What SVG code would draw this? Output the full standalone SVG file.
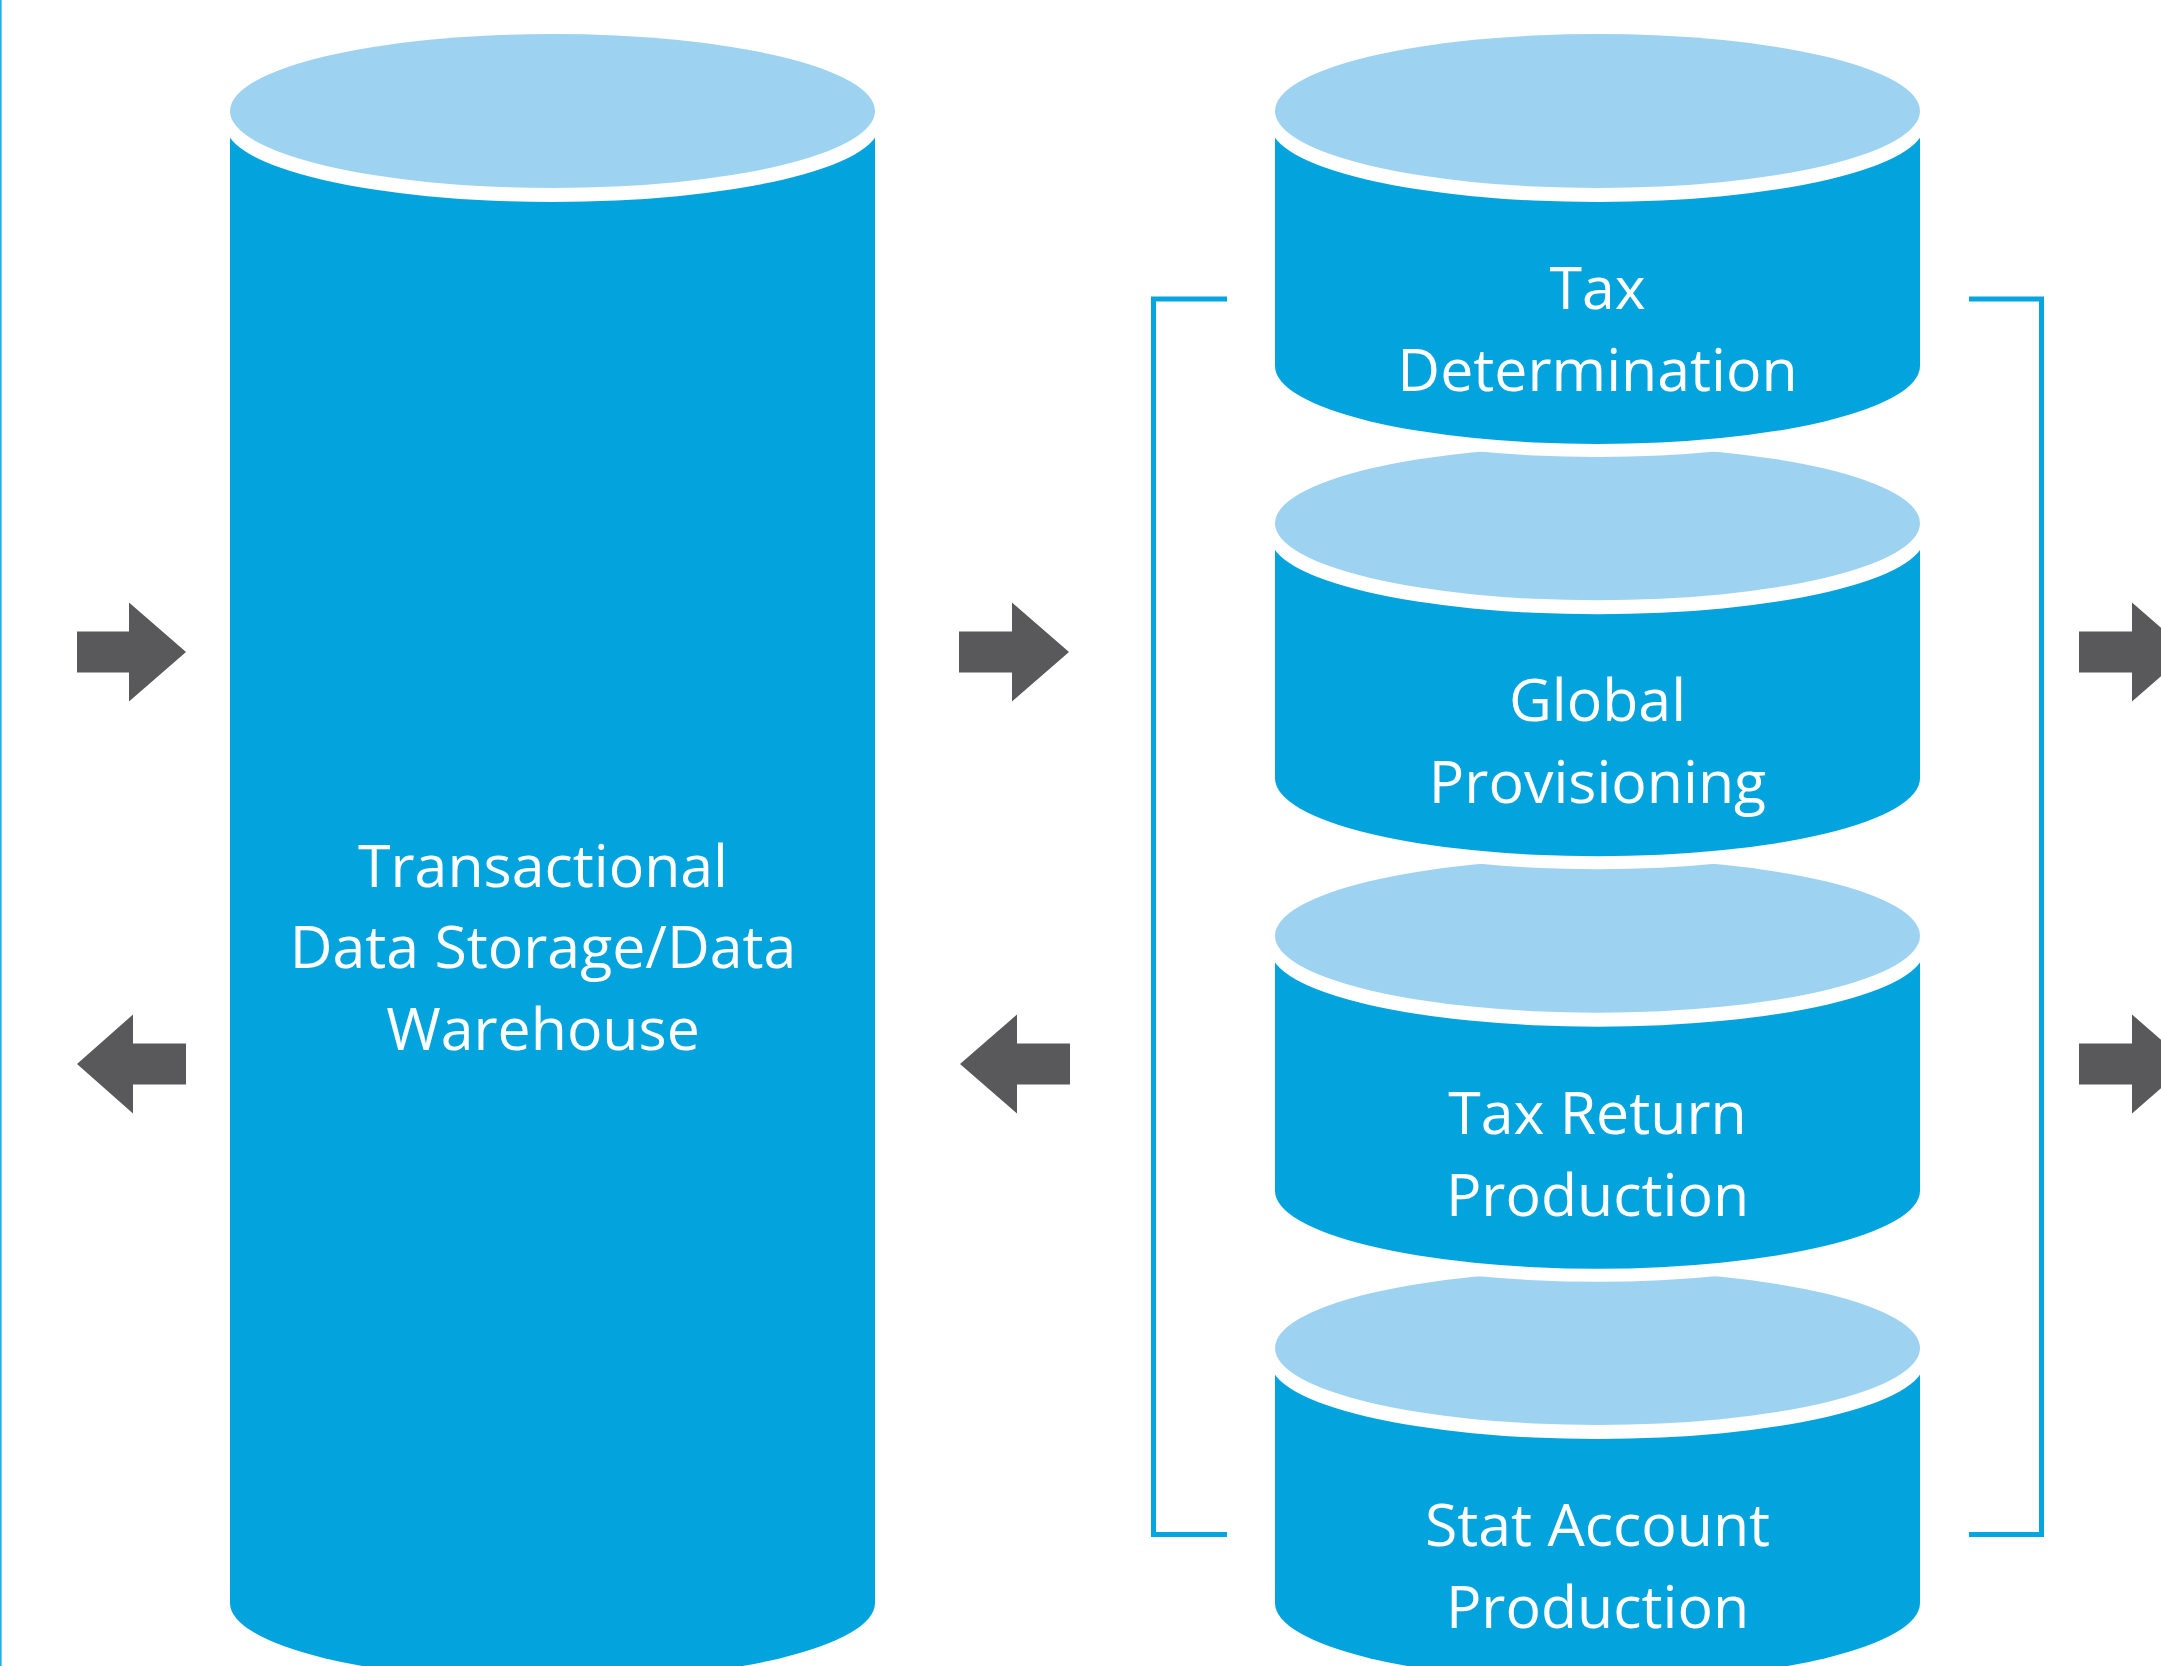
<svg xmlns="http://www.w3.org/2000/svg" width="2161" height="1666" viewBox="0 0 2161 1666">
<style>
.body{fill:#03a4de}
.cap{fill:#9dd3f0}
.gap{fill:#ffffff}
.lbl{font-family:"Open Sans","Noto Sans","Liberation Sans",sans-serif;font-size:59px;fill:#ffffff;text-anchor:middle}
.arrow{fill:#59595b}
.brk{fill:none;stroke:#05a5df;stroke-width:5}
</style>
<rect x="0" y="0" width="2161" height="1666" fill="#ffffff"/>
<rect x="0" y="0" width="1.6" height="1666" fill="#1cb0ec"/>

<g id="warehouse">
  <rect class="body" x="230" y="125" width="645" height="1478"/>
  <ellipse class="body" cx="552.5" cy="1603" rx="322.5" ry="78"/>
  <ellipse class="gap" cx="552.5" cy="125" rx="327" ry="77"/>
  <ellipse class="cap" cx="552.5" cy="111" rx="322.5" ry="77"/>
  <text class="lbl" x="543" y="887">Transactional</text>
  <text class="lbl" x="543" y="968">Data Storage/Data</text>
  <text class="lbl" x="543" y="1050">Warehouse</text>
</g>

<g id="stat-account">
  <rect class="body" x="1275" y="1362" width="645" height="241"/>
  <ellipse class="body" cx="1597.5" cy="1603" rx="322.5" ry="78"/>
  <ellipse class="gap" cx="1597.5" cy="1362" rx="327" ry="77"/>
  <ellipse class="cap" cx="1597.5" cy="1348" rx="322.5" ry="77"/>
  <text class="lbl" x="1597.5" y="1546">Stat Account</text>
  <text class="lbl" x="1597.5" y="1628">Production</text>
</g>

<g id="tax-return">
  <ellipse class="gap" cx="1597.5" cy="1203.7" rx="322.5" ry="78"/>
  <rect class="body" x="1275" y="949.7" width="645" height="241"/>
  <ellipse class="body" cx="1597.5" cy="1190.7" rx="322.5" ry="78"/>
  <ellipse class="gap" cx="1597.5" cy="949.7" rx="327" ry="77"/>
  <ellipse class="cap" cx="1597.5" cy="935.7" rx="322.5" ry="77"/>
  <text class="lbl" x="1597.5" y="1134">Tax Return</text>
  <text class="lbl" x="1597.5" y="1216">Production</text>
</g>

<g id="global-provisioning">
  <ellipse class="gap" cx="1597.5" cy="791.3" rx="322.5" ry="78"/>
  <rect class="body" x="1275" y="537.3" width="645" height="241"/>
  <ellipse class="body" cx="1597.5" cy="778.3" rx="322.5" ry="78"/>
  <ellipse class="gap" cx="1597.5" cy="537.3" rx="327" ry="77"/>
  <ellipse class="cap" cx="1597.5" cy="523.3" rx="322.5" ry="77"/>
  <text class="lbl" x="1597.5" y="721">Global</text>
  <text class="lbl" x="1597.5" y="803">Provisioning</text>
</g>

<g id="tax-determination">
  <ellipse class="gap" cx="1597.5" cy="379" rx="322.5" ry="78"/>
  <rect class="body" x="1275" y="125" width="645" height="241"/>
  <ellipse class="body" cx="1597.5" cy="366" rx="322.5" ry="78"/>
  <ellipse class="gap" cx="1597.5" cy="125" rx="327" ry="77"/>
  <ellipse class="cap" cx="1597.5" cy="111" rx="322.5" ry="77"/>
  <text class="lbl" x="1597.5" y="309">Tax</text>
  <text class="lbl" x="1597.5" y="391">Determination</text>
</g>

<g id="bracket">
  <polyline class="brk" points="1227,299 1153.5,299 1153.5,1534.5 1227,1534.5"/>
  <polyline class="brk" points="1969,299 2041.5,299 2041.5,1534.5 1969,1534.5"/>
</g>

<g id="connectors">
  <polygon class="arrow" points="77,631.5 129,631.5 129,602.5 186,652 129,701.5 129,672.5 77,672.5"/>
  <polygon class="arrow" points="186,1043.5 133,1043.5 133,1014.5 77,1064 133,1113.5 133,1084.5 186,1084.5"/>
  <polygon class="arrow" points="959,631.5 1012,631.5 1012,602.5 1069,652 1012,701.5 1012,672.5 959,672.5"/>
  <polygon class="arrow" points="1070,1043.5 1017,1043.5 1017,1014.5 960,1064 1017,1113.5 1017,1084.5 1070,1084.5"/>
  <polygon class="arrow" points="2079,631.5 2132,631.5 2132,602.5 2189,652 2132,701.5 2132,672.5 2079,672.5"/>
  <polygon class="arrow" points="2079,1043.5 2132,1043.5 2132,1014.5 2189,1064 2132,1113.5 2132,1084.5 2079,1084.5"/>
</g>
</svg>
